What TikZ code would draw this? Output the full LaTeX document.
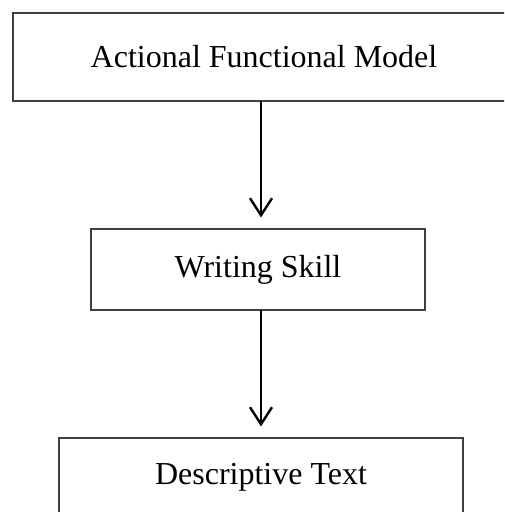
\documentclass[tikz,border=0pt]{standalone}
\usepackage{fontspec}
\setmainfont{Liberation Serif}
\usetikzlibrary{arrows.meta}
\begin{document}
\begin{tikzpicture}[x=1pt,y=1pt,
  boxnode/.style={draw=black!75,line width=1.1pt,rectangle,inner sep=0pt,font=\fontsize{32}{35}\selectfont},
  flowarrow/.style={line width=2.4pt,-{Straight Barb[length=17pt,width=22pt,line width=2.4pt]},shorten >=11pt}]
\useasboundingbox (0,0) rectangle (504,-512);
\clip (0,0) rectangle (504,-512);
\node[boxnode,minimum width=502pt,minimum height=88pt] (top) at (264,-57) {Actional Functional Model};
\node[boxnode,minimum width=334pt,minimum height=81pt] (mid) at (258,-269.5) {Writing Skill};
\node[boxnode,minimum width=404pt,minimum height=78pt] (bot) at (261,-477) {Descriptive Text};
\coordinate (a1) at (261,-101);
\coordinate (a2) at (261,-310);
\draw[flowarrow] (a1) -- (a1 |- mid.north);
\draw[flowarrow] (a2) -- (a2 |- bot.north);
\end{tikzpicture}
\end{document}
